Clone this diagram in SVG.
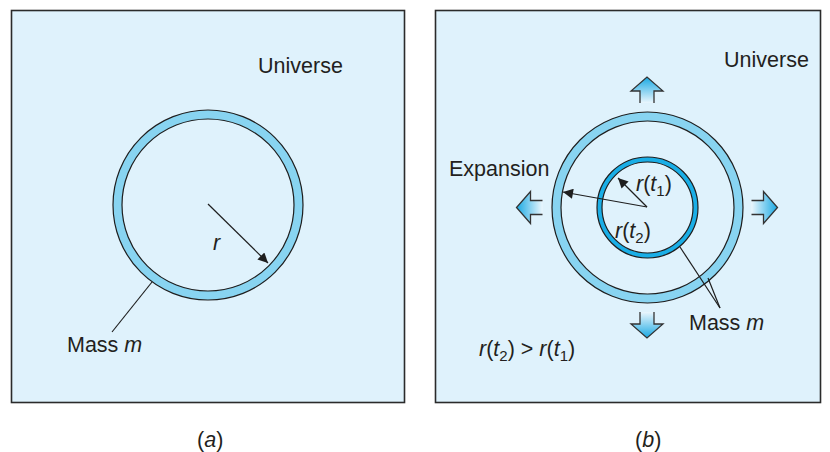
<svg xmlns="http://www.w3.org/2000/svg" width="830" height="452" viewBox="0 0 830 452">
<defs>
<style>
.panel{fill:#dff2fc;stroke:#2b2b2b;stroke-width:1.6}
.t{font-family:"Liberation Sans",Arial,sans-serif;font-size:21.5px;fill:#231f20}
.i{font-style:italic}
.sub{font-size:15px}
.ring{fill:none;stroke:#88d4f1}
.edge{fill:none;stroke:#1e1e1e;stroke-width:1.2}
.ln{fill:none;stroke:#1e1e1e;stroke-width:1.2}
.ba{fill:url(#g);stroke:none}
.bo{fill:none;stroke:#333;stroke-width:1.3;stroke-linejoin:miter}
</style>
<marker id="ah" viewBox="0 0 10 10" refX="10" refY="5" markerWidth="13" markerHeight="10" markerUnits="userSpaceOnUse" orient="auto">
<path d="M0,0 L10,5 L0,10 z" fill="#1e1e1e"/>
</marker>
<linearGradient id="g" x1="0" y1="1" x2="0" y2="0">
<stop offset="0" stop-color="#eaf6fd"/>
<stop offset="1" stop-color="#1aa9e3"/>
</linearGradient>
</defs>

<g id="panel-a">
<rect class="panel" x="11.5" y="10.5" width="393" height="392"/>
<text class="t" x="258" y="73">Universe</text>
</g>
<g id="mass-a">
<circle class="ring" cx="208" cy="205" r="90.5" stroke-width="9"/>
<circle class="edge" cx="208" cy="205" r="95"/>
<circle class="edge" cx="208" cy="205" r="86"/>
</g>
<g id="label-a">
<text class="t i" x="213" y="250">r</text>
<text class="t" x="67" y="352">Mass <tspan class="i">m</tspan></text>
<text class="t" x="197" y="447">(<tspan class="i">a</tspan>)</text>
</g>

<g id="panel-b">
<rect class="panel" x="435.5" y="10.5" width="385" height="392"/>
<text class="t" x="724" y="67">Universe</text>
</g>
<g id="mass-b-outer">
<circle class="ring" cx="647.5" cy="207.5" r="91" stroke-width="9"/>
<circle class="edge" cx="647.5" cy="207.5" r="95.5"/>
<circle class="edge" cx="647.5" cy="207.5" r="86.5"/>
</g>
<g id="mass-b-inner">
<circle fill="none" stroke="#1aaee6" stroke-width="5" cx="647.5" cy="207.5" r="48"/>
<circle class="edge" cx="647.5" cy="207.5" r="50.5"/>
<circle class="edge" cx="647.5" cy="207.5" r="45.5"/>
</g>

<g id="expansion-arrows">
<g id="arrow-up">
<polygon class="ba" points="640,103 640,91 631,91 647,77 663,91 654,91 654,103"/>
<polyline class="bo" points="640,103 640,91 631,91 647,77 663,91 654,91 654,103"/>
</g>
<g id="arrow-down">
<polygon class="ba" transform="rotate(180 647 207.5)" points="640,103 640,91 631,91 647,77 663,91 654,91 654,103"/>
<polyline class="bo" transform="rotate(180 647 207.5)" points="640,103 640,91 631,91 647,77 663,91 654,91 654,103"/>
</g>
<g id="arrow-left">
<polygon class="ba" transform="rotate(-90 647 207.5)" points="640,103 640,91 631,91 647,77 663,91 654,91 654,103"/>
<polyline class="bo" transform="rotate(-90 647 207.5)" points="640,103 640,91 631,91 647,77 663,91 654,91 654,103"/>
</g>
<g id="arrow-right">
<polygon class="ba" transform="rotate(90 647 207.5)" points="640,103 640,91 631,91 647,77 663,91 654,91 654,103"/>
<polyline class="bo" transform="rotate(90 647 207.5)" points="640,103 640,91 631,91 647,77 663,91 654,91 654,103"/>
</g>
</g>

<g id="connectors">
<line class="ln" x1="208" y1="204" x2="268" y2="263" marker-end="url(#ah)"/>
<line class="ln" x1="152" y1="282" x2="112" y2="332"/>
<line class="ln" x1="647" y1="207" x2="618" y2="178" marker-end="url(#ah)"/>
<line class="ln" x1="647" y1="207" x2="563" y2="192" marker-end="url(#ah)"/>
<line class="ln" x1="680" y1="247" x2="720" y2="308"/>
<line class="ln" x1="708" y1="278" x2="720" y2="308"/>
</g>

<g id="labels-b">
<text class="t" x="449" y="176">Expansion</text>
<text class="t" x="636" y="191"><tspan class="i">r</tspan>(<tspan class="i">t</tspan><tspan class="sub" dy="5">1</tspan><tspan dy="-5">)</tspan></text>
<text class="t" x="615" y="238"><tspan class="i">r</tspan>(<tspan class="i">t</tspan><tspan class="sub" dy="5">2</tspan><tspan dy="-5">)</tspan></text>
<text class="t" x="689" y="330">Mass <tspan class="i">m</tspan></text>
<text class="t" x="479" y="356"><tspan class="i">r</tspan>(<tspan class="i">t</tspan><tspan class="sub" dy="5">2</tspan><tspan dy="-5">) &gt; </tspan><tspan class="i">r</tspan>(<tspan class="i">t</tspan><tspan class="sub" dy="5">1</tspan><tspan dy="-5">)</tspan></text>
<text class="t" x="635" y="447">(<tspan class="i">b</tspan>)</text>
</g>
</svg>
